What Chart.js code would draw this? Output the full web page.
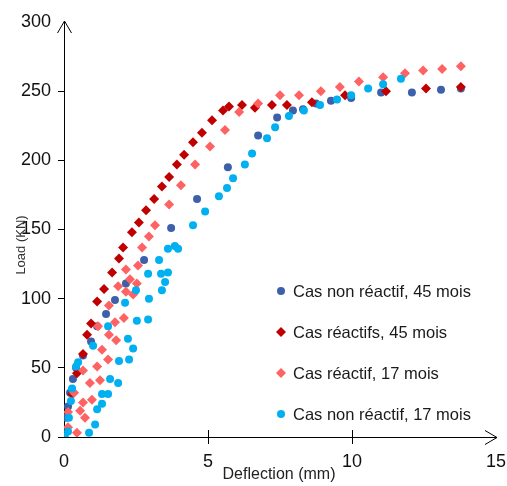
<!DOCTYPE html>
<html>
<head>
<meta charset="utf-8">
<script src="https://cdn.jsdelivr.net/npm/chart.js@4.4.0/dist/chart.umd.min.js"></script>
<style>
  body { margin: 0; background: #fff; }
  #boite { width: 507px; height: 486px; }
</style>
</head>
<body>
<div id="boite"><canvas id="grafico"></canvas></div>
<script>
// Valeurs : déflexion (mm) et charge (kN)
const nonReactif45X = [0.07, 0.14, 0.21, 0.31, 0.42, 0.66, 0.94, 1.15, 1.46, 1.77, 2.15, 2.78, 3.72, 4.62, 5.69, 6.74, 7.40, 7.95, 8.30, 8.75, 9.27, 9.97, 11.01, 12.08, 13.09, 13.78];
const nonReactif45Y = [14, 22, 32, 42, 50, 59, 69, 80, 89, 99, 111, 128, 151, 172, 195, 218, 231, 236, 237, 241, 243, 245, 249, 249, 251, 252];

const reactifs45X = [0.28, 0.45, 0.66, 0.80, 0.94, 1.15, 1.39, 1.67, 1.91, 2.05, 2.36, 2.60, 2.85, 3.13, 3.40, 3.65, 3.92, 4.17, 4.48, 4.79, 5.14, 5.52, 5.73, 6.18, 6.63, 7.22, 7.74, 8.61, 9.76, 11.18, 12.57, 13.78];
const reactifs45Y = [31, 46, 60, 74, 82, 98, 107, 119, 129, 137, 148, 155, 164, 172, 181, 188, 197, 204, 213, 220, 229, 236, 239, 240, 238, 240, 240, 242, 247, 250, 252, 253];

const reactif17X = [0.14, 0.45, 0.14, 0.56, 0.73, 0.35, 0.66, 0.97, 0.66, 0.90, 1.15, 1.25, 1.32, 1.53, 1.18, 1.56, 1.81, 1.56, 1.77, 2.08, 1.88, 2.15, 2.40, 2.15, 2.29, 2.53, 2.57, 2.71, 2.95, 3.16, 3.65, 4.06, 4.55, 5.07, 5.59, 6.08, 6.74, 7.50, 8.16, 8.92, 9.58, 10.24, 11.08, 11.84, 12.47, 13.13, 13.78];
const reactif17Y = [7, 3, 18, 19, 14, 32, 25, 27, 48, 39, 51, 41, 63, 56, 80, 74, 70, 95, 83, 86, 109, 105, 103, 121, 114, 111, 124, 137, 145, 153, 168, 182, 197, 210, 222, 235, 241, 247, 247, 250, 253, 257, 260, 263, 265, 266, 268];

const nonReactif17X = [0.03, 0.14, 0.17, 0.24, 0.28, 0.42, 0.49, 0.87, 1.08, 1.15, 1.32, 1.32, 1.53, 1.60, 1.88, 1.01, 1.91, 2.26, 2.22, 2.40, 1.53, 2.53, 2.92, 2.12, 2.95, 2.50, 3.40, 3.51, 2.92, 3.37, 3.61, 3.30, 3.61, 3.85, 3.96, 4.48, 4.90, 5.38, 5.66, 5.87, 6.28, 6.53, 7.05, 7.33, 7.81, 8.33, 8.89, 9.48, 9.97, 10.56, 11.08, 11.70];
const nonReactif17Y = [0, 4, 14, 26, 35, 51, 54, 3, 9, 20, 24, 31, 31, 42, 39, 66, 55, 56, 71, 64, 80, 84, 85, 97, 100, 106, 106, 112, 118, 118, 119, 128, 136, 138, 136, 153, 163, 174, 180, 187, 197, 205, 216, 224, 232, 236, 240, 244, 247, 252, 255, 259];

const seriesLabels = ["Cas non réactif, 45 mois", "Cas réactifs, 45 mois", "Cas réactif, 17 mois", "Cas non réactif, 17 mois"];
const xTicks = [0, 5, 10, 15];
const yTicks = [0, 50, 100, 150, 200, 250, 300];
const xTitle = "Deflection (mm)";
const yTitle = "Load (KN)";

function pontos(xs, ys) {
    return xs.map((x, i) => ({ x: x, y: ys[i] }));
}

// Flèches des axes, graduations de l'axe des x, titres et légende dans la zone de tracé
const extras = {
    id: 'extras',
    afterDraw(chart) {
        const ctx = chart.ctx;
        const area = chart.chartArea;
        const sx = chart.scales.x;
        ctx.save();
        ctx.strokeStyle = '#000';
        ctx.lineWidth = 1;
        // flèche verticale
        ctx.beginPath();
        ctx.moveTo(area.left - 6.5, area.top + 11);
        ctx.lineTo(area.left + 0.5, area.top - 1);
        ctx.lineTo(area.left + 7.5, area.top + 11);
        ctx.stroke();
        // flèche horizontale
        ctx.beginPath();
        ctx.moveTo(area.right - 11, area.bottom - 6.5);
        ctx.lineTo(area.right + 1, area.bottom + 0.5);
        ctx.lineTo(area.right - 11, area.bottom + 7.5);
        ctx.stroke();
        // graduations qui traversent l'axe des x
        xTicks.forEach(v => {
            if (v === 0 || v === 15) return;
            const px = Math.round(sx.getPixelForValue(v)) + 0.5;
            ctx.beginPath();
            ctx.moveTo(px, area.bottom - 7);
            ctx.lineTo(px, area.bottom + 7);
            ctx.stroke();
        });
        // titres
        ctx.fillStyle = '#222';
        ctx.textAlign = 'center';
        ctx.textBaseline = 'middle';
        ctx.font = '16px "Liberation Sans", Arial, sans-serif';
        ctx.fillText(xTitle, (area.left + area.right) / 2 - 1, 475);
        ctx.save();
        ctx.translate(21, 245);
        ctx.rotate(-Math.PI / 2);
        ctx.font = '13px "Liberation Sans", Arial, sans-serif';
        ctx.fillStyle = '#333';
        ctx.fillText(yTitle, 0, 0);
        ctx.restore();
        // légende
        ctx.font = '16.5px "Liberation Sans", Arial, sans-serif';
        ctx.textAlign = 'left';
        chart.data.datasets.forEach((ds, i) => {
            const lx = area.left + 217;
            const ly = area.top + 269 + i * 41;
            ctx.fillStyle = ds.backgroundColor;
            ctx.strokeStyle = ds.backgroundColor;
            Chart.helpers.drawPoint(ctx, { pointStyle: ds.pointStyle, radius: ds.pointRadius, rotation: 0, borderWidth: 0 }, lx, ly);
            ctx.fillStyle = '#1a1a1a';
            ctx.fillText(ds.label, lx + 12, ly + 1);
        });
        ctx.restore();
    }
};

const ctx = document.getElementById("grafico").getContext("2d");
const tickFont = { family: '"Liberation Sans", Arial, sans-serif', size: 18 };

new Chart(ctx, {
    type: 'scatter',
    data: {
        datasets: [
            {
                label: seriesLabels[0],
                data: pontos(nonReactif45X, nonReactif45Y),
                backgroundColor: '#3D60AA',
                borderWidth: 0,
                pointStyle: 'circle',
                pointRadius: 4,
                order: 4
            },
            {
                label: seriesLabels[1],
                data: pontos(reactifs45X, reactifs45Y),
                backgroundColor: '#C00000',
                borderWidth: 0,
                pointStyle: 'rectRot',
                pointRadius: 5,
                order: 3
            },
            {
                label: seriesLabels[2],
                data: pontos(reactif17X, reactif17Y),
                backgroundColor: '#FF6262',
                borderWidth: 0,
                pointStyle: 'rectRot',
                pointRadius: 5,
                order: 2
            },
            {
                label: seriesLabels[3],
                data: pontos(nonReactif17X, nonReactif17Y),
                backgroundColor: '#00B0F0',
                borderWidth: 0,
                pointStyle: 'circle',
                pointRadius: 4,
                order: 1
            }
        ]
    },
    options: {
        responsive: true,
        maintainAspectRatio: false,
        animation: false,
        events: [],
        layout: { padding: { top: 22, right: 11, left: 0, bottom: 0 } },
        plugins: {
            legend: { display: false },
            tooltip: { enabled: false }
        },
        scales: {
            x: {
                type: 'linear',
                min: 0,
                max: 15,
                afterBuildTicks: s => { s.ticks = xTicks.map(v => ({ value: v })); },
                afterFit: s => { s.height = 49; },
                ticks: { font: tickFont, color: '#111', padding: 0, maxRotation: 0 },
                grid: {
                    drawOnChartArea: false,
                    tickLength: 14,
                    tickColor: 'rgba(0,0,0,0)'
                },
                border: { display: true, color: '#000', width: 1 }
            },
            y: {
                type: 'linear',
                min: 0,
                max: 300,
                afterBuildTicks: s => { s.ticks = yTicks.map(v => ({ value: v })); },
                afterFit: s => { s.width = 64; },
                ticks: { font: tickFont, color: '#111', padding: 7 },
                grid: {
                    drawOnChartArea: false,
                    tickLength: 6,
                    color: c => (c.tick && c.tick.value === 300) ? 'rgba(0,0,0,0)' : '#000'
                },
                border: { display: true, color: '#000', width: 1 }
            }
        }
    },
    plugins: [extras]
});
</script>
</body>
</html>
